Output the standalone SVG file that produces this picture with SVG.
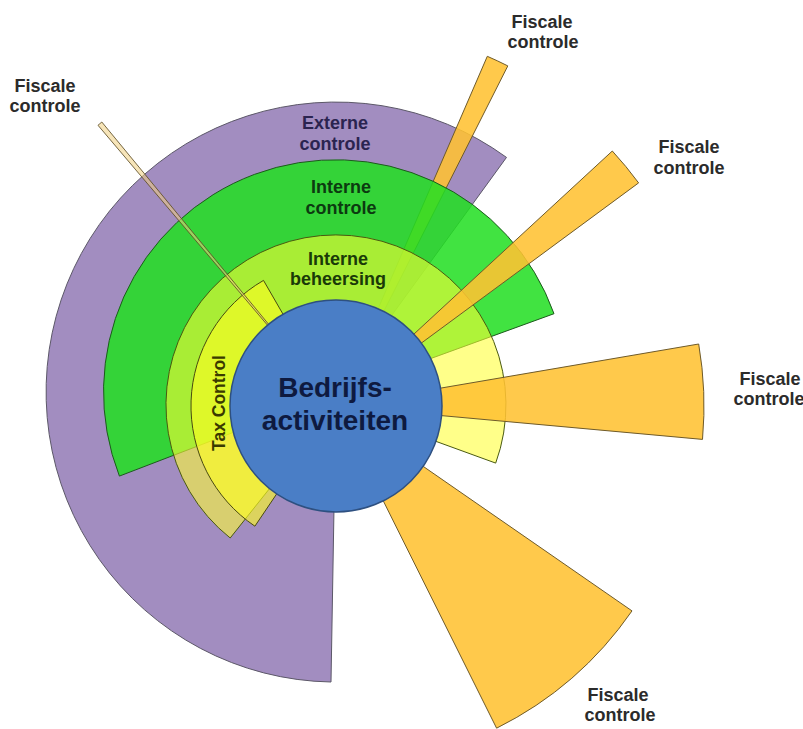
<svg xmlns="http://www.w3.org/2000/svg" width="803" height="729" viewBox="0 0 803 729">
<style>
text{font-family:"Liberation Sans",Arial,sans-serif;font-weight:bold;text-anchor:middle}
.lbl{font-size:18px;fill:#2b2b2b}
.bar{fill:#FFC232;fill-opacity:0.88;stroke:#6e5a2a;stroke-width:1}
</style>
<rect width="803" height="729" fill="#ffffff"/>
<g id="externe-controle">
<path d="M336 392 L506.5 157.4 A290 290 0 1 0 331 682 Z" fill="#A28DC0" stroke="#5c5868" stroke-width="1"/>
</g>
<g id="connectors">
<path id="fiscale-2" class="bar" d="M336 406 L507.8 65.9 A381 381 0 0 0 487.3 56.3 Z"/>
</g>
<g id="interne-controle">
<path d="M336 393 L554 313.7 A232 232 0 1 0 119.4 476.1 Z" fill="#22DE22" fill-opacity="0.86" stroke="#1d5a1d" stroke-width="1"/>
</g>
<g id="interne-beheersing">
<path d="M336 405 L495.7 463.1 A170 170 0 1 0 230.2 538 Z" fill="#FFFF33" fill-opacity="0.58" stroke="#4a5a10" stroke-width="1"/>
</g>
<g id="tax-control">
<path d="M336 406 L263.5 280.4 A145 145 0 0 0 254.9 526.2 Z" fill="#FFFF22" fill-opacity="0.62" stroke="#4a4a10" stroke-width="1"/>
</g>
<g id="fiscale-bars">
<path id="fiscale-1" d="M336 406 L101.8 122 A368 368 0 0 0 98 125.3 Z" fill="#F0D080" fill-opacity="0.55" stroke="#5e4e26" stroke-opacity="0.85" stroke-width="1"/>
<path id="fiscale-3" class="bar" d="M336 406 L638.6 182.9 A376 376 0 0 0 612.3 151 Z"/>
<path id="fiscale-4" class="bar" d="M336 406 L702.5 439.4 A368 368 0 0 0 698.7 344 Z"/>
<path id="fiscale-5" class="bar" d="M336 406 L496.6 728.2 A360 360 0 0 0 632 610.9 Z"/>
</g>
<g id="bedrijfsactiviteiten">
<circle cx="336" cy="406" r="106" fill="#4A7EC6" stroke="#2e5080" stroke-width="1.5"/>
<text x="335" y="397" style="font-size:28px;fill:#0e1a40">Bedrijfs-</text>
<text x="335" y="430" style="font-size:28px;fill:#0e1a40">activiteiten</text>
</g>
<g id="labels">
<text class="lbl" style="fill:#2b2450" x="335" y="129">Externe</text>
<text class="lbl" style="fill:#2b2450" x="335" y="150">controle</text>
<text class="lbl" style="fill:#0c3a10" x="341" y="193">Interne</text>
<text class="lbl" style="fill:#0c3a10" x="341" y="214">controle</text>
<text class="lbl" style="fill:#1a3a08" x="338" y="265">Interne</text>
<text class="lbl" style="fill:#1a3a08" x="338" y="285">beheersing</text>
<text class="lbl" style="fill:#3a3a00;font-size:17.5px" transform="translate(225 403) rotate(-90)">Tax Control</text>
<text class="lbl" x="45" y="92">Fiscale</text>
<text class="lbl" x="45" y="112">controle</text>
<text class="lbl" x="542" y="28">Fiscale</text>
<text class="lbl" x="543" y="48">controle</text>
<text class="lbl" x="689" y="153">Fiscale</text>
<text class="lbl" x="689" y="174">controle</text>
<text class="lbl" x="770" y="385">Fiscale</text>
<text class="lbl" x="769" y="405">controle</text>
<text class="lbl" x="618" y="701">Fiscale</text>
<text class="lbl" x="620" y="721">controle</text>
</g>
</svg>
